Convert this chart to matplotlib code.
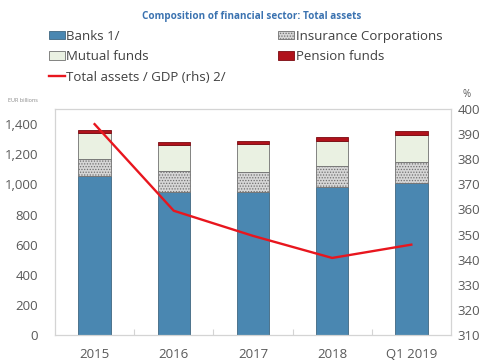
import matplotlib
matplotlib.use("Agg")
import matplotlib.pyplot as plt
import numpy as np

plt.rcParams['font.family'] = ['Open Sans', 'DejaVu Sans']

categories = ["2015", "2016", "2017", "2018", "Q1 2019"]
banks = [1055, 947, 947, 982, 1006]
insurance = [111, 141, 137, 139, 140]
mutual_funds = [172, 173, 181, 169, 181]
pension = [20, 22, 25, 22, 25]
assets_gdp = [394, 359.5, 349.5, 340.7, 346]

left_ticks = [0, 200, 400, 600, 800, 1000, 1200, 1400]
right_ticks = [310, 320, 330, 340, 350, 360, 370, 380, 390, 400]

c_banks = "#4a87b1"
c_ins = "#d6d6d6"
c_mf = "#eaf1e2"
c_pen = "#b0121b"
c_line = "#e8161e"
c_text = "#595959"
c_frame = "#d4d4d4"

fig = plt.figure(figsize=(4.88, 3.6), dpi=100)
ax = fig.add_axes([0.1127, 0.0694, 0.8113, 0.6276])

x = np.arange(len(categories))
w = 0.41
b = np.array(banks)
i = np.array(insurance)
m = np.array(mutual_funds)
p = np.array(pension)

h_banks = ax.bar(x, b, w, color=c_banks, edgecolor="#3f6680", linewidth=0.6)
plt.rcParams['hatch.color'] = "#9a9a9a"
plt.rcParams['hatch.linewidth'] = 0.6
h_ins = ax.bar(x, i, w, bottom=b, color=c_ins, edgecolor="#707070",
               linewidth=0.6, hatch="......")
h_mf = ax.bar(x, m, w, bottom=b + i, color=c_mf, edgecolor="#707070",
              linewidth=0.6)
h_pen = ax.bar(x, p, w, bottom=b + i + m, color=c_pen, edgecolor="#7a0a10",
               linewidth=0.6)

ax.set_xlim(-0.5, len(categories) - 0.5)
ax.set_ylim(0, 1500)
ax.set_yticks(left_ticks)
ax.set_yticklabels([f"{v:,}" for v in left_ticks])
ax.set_xticks(x)
ax.set_xticklabels(categories)
ax.set_xticks(np.arange(0.5, len(categories) - 0.5, 1), minor=True)
ax.tick_params(axis="x", which="major", length=0, pad=9, labelsize=9.5,
               labelcolor=c_text)
ax.tick_params(axis="x", which="minor", length=4, direction="in",
               color=c_frame, width=0.8)
ax.tick_params(axis="y", length=0, pad=12, labelsize=9.5, labelcolor=c_text)
for s in ax.spines.values():
    s.set_color(c_frame)
    s.set_linewidth(0.8)

ax2 = ax.twinx()
line, = ax2.plot(x, assets_gdp, color=c_line, linewidth=1.7)
ax2.set_ylim(310, 400)
ax2.set_yticks(right_ticks)
ax2.tick_params(axis="y", length=0, pad=5, labelsize=9.5, labelcolor=c_text)
for s in ax2.spines.values():
    s.set_color(c_frame)
    s.set_linewidth(0.8)

fig.text(0.515, 0.955, "Composition of financial sector: Total assets",
         ha="center", va="center", fontsize=7.1, fontweight="bold",
         color="#3a72b0")
fig.text(0.016, 0.722, "EUR billions", ha="left", va="center",
         fontsize=4, color="#8a8a8a")
fig.text(0.948, 0.738, "%", ha="left", va="center", fontsize=7,
         color=c_text)

handles = [h_banks, h_mf, line, h_ins, h_pen]
labels = ["Banks 1/", "Mutual funds", "Total assets / GDP (rhs) 2/",
          "Insurance Corporations", "Pension funds"]
leg = fig.legend(handles, labels, ncol=2, loc="upper left",
                 bbox_to_anchor=(0.10, 0.918), frameon=False,
                 fontsize=9.5, labelcolor="#404040", handlelength=1.2,
                 handleheight=0.6, handletextpad=0.1, columnspacing=4.0,
                 labelspacing=0.58, borderaxespad=0, borderpad=0)

fig.savefig("out.png", dpi=100)
